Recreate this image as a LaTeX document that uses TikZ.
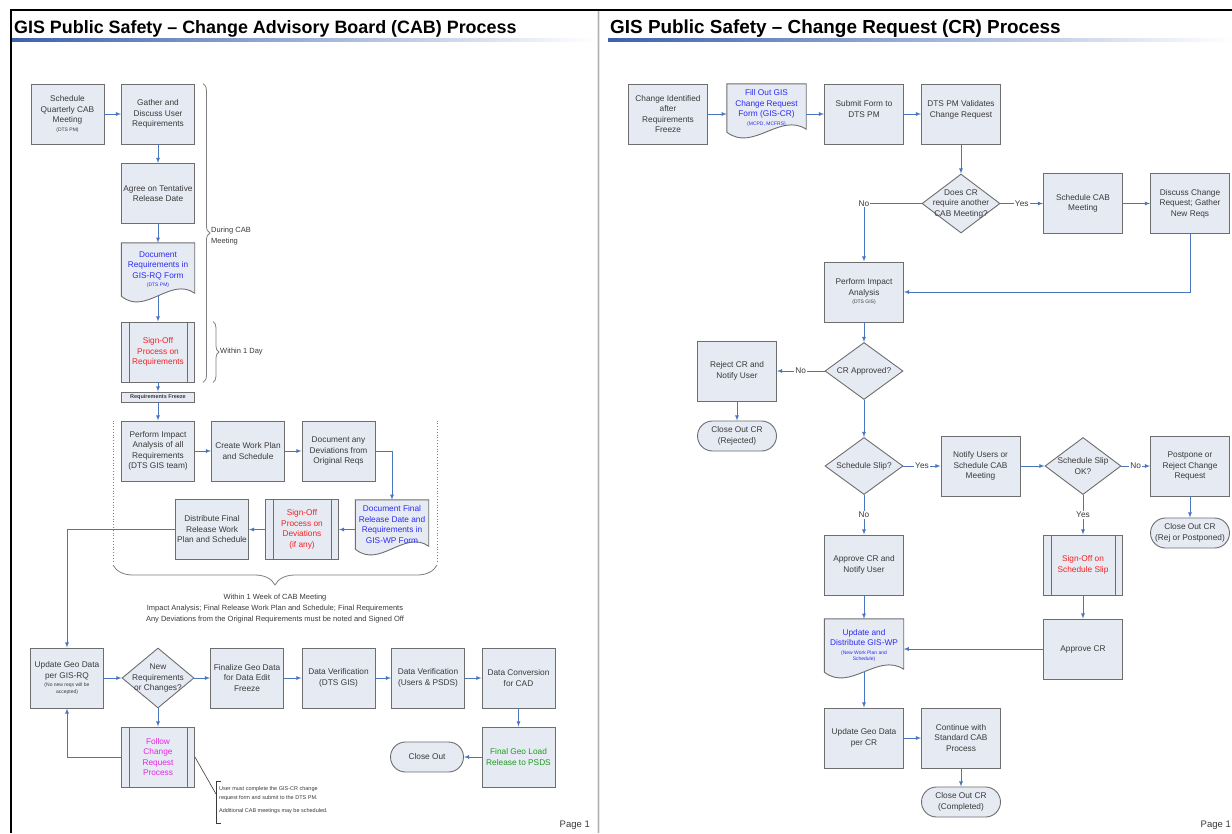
\documentclass[tikz,border=0pt]{standalone}
\usepackage{fontspec}
\setmainfont{Liberation Sans}
\usepackage{tikz}
\usetikzlibrary{arrows,shapes,shapes.geometric,calc,decorations.pathreplacing,backgrounds}
\usepackage{xcolor}
\definecolor{boxfill}{HTML}{E6EAF3}
\definecolor{boxline}{HTML}{6E6E6E}
\definecolor{flowblue}{HTML}{4A76C0}
\definecolor{docblue}{HTML}{2B2BF2}
\definecolor{signred}{HTML}{F22222}
\definecolor{crmagenta}{HTML}{E526E5}
\definecolor{loadgreen}{HTML}{1E9B1E}
\definecolor{ulblue}{HTML}{3C62AC}
\definecolor{notegray}{HTML}{7F7F7F}
\definecolor{txtgray}{HTML}{3A3A3A}
\newcommand{\smalltxt}[1]{{\fontsize{5}{6}\selectfont #1}}
\tikzset{
flownode/.style = {align=center, inner sep=0pt, text=txtgray, font=\fontsize{8.3}{10.5}\selectfont},
procbox/.style = {flownode, rectangle, draw=boxline, fill=boxfill, line width=0.9pt, minimum width=73pt, minimum height=60pt},% process step
subproc/.style = {procbox},% predefined process, side bars drawn later
docbox/.style = {flownode, rectangle, minimum width=73pt, minimum height=50pt},% document, wavy outline drawn later
termbox/.style = {procbox, rounded corners=15pt, minimum height=30pt},% start / end
decision/.style = {diamond, draw=boxline, fill=boxfill, line width=0.9pt, inner sep=0pt, minimum width=76pt, minimum height=58pt, label={[flownode]center:#1}},% yes / no test
flowarrow/.style = {->, >=latex, draw=flowblue, line width=0.8pt},
yesno/.style = {flownode, fill=white, inner sep=1pt},
notetext/.style = {align=left, inner sep=0pt, text=txtgray, font=\fontsize{7.5}{11}\selectfont},
bracebar/.style = {draw=notegray, line width=0.8pt, decorate, decoration={brace, amplitude=#1}},
dotline/.style = {draw=notegray, dotted, line width=0.8pt}
}

\begin{document}
\begin{tikzpicture}[x=1pt, y=-1pt]
\useasboundingbox (0,0) rectangle (1232,833);
\begin{scope}[on background layer]
\fill[white] (0,0) rectangle (1232,833);
\end{scope}

% frame and page split
\fill[gray!20] (597,11) rectangle (600,833);
\draw[gray!60, line width=0.8pt] (598,11) -- (598,833);
\draw[black, line width=2pt] (11,833) -- (11,10) -- (1232,10);

% titles
\node[anchor=base west, inner sep=0pt, font=\fontsize{17.9}{20}\selectfont\bfseries] (title1) at (14,33) {GIS Public Safety – Change Advisory Board (CAB) Process};
\node[anchor=base west, inner sep=0pt, font=\fontsize{18.9}{20}\selectfont\bfseries] (title2) at (610,33) {GIS Public Safety – Change Request (CR) Process};
\shade[left color=ulblue, middle color=ulblue!85, right color=white] (12,38) rectangle (596,41.5);
\shade[left color=ulblue, middle color=ulblue!85, right color=white] (608,38) rectangle (1232,41.5);

% ---- CAB process
\node[procbox] (sched) at (67.5,114) {Schedule\\Quarterly CAB\\Meeting\\[-2pt]\smalltxt{(DTS PM)}};
\node[procbox] (gather) at (158,114) {Gather and\\Discuss User\\Requirements};
\node[procbox] (agree) at (158,193.5) {Agree on Tentative\\Release Date};
\node[docbox, text=docblue, minimum height=53pt] (docrq) at (158,269.5) {Document\\Requirements in\\GIS-RQ Form\\[-2pt]\smalltxt{(DTS PM)}};
\node[subproc, text=signred] (signreq) at (158,352) {Sign-Off\\Process on\\Requirements};
\node[procbox, minimum height=10pt, font=\fontsize{5.5}{6}\selectfont\bfseries] (freeze) at (158,397) {Requirements Freeze};
\node[procbox] (impact) at (158,451) {Perform Impact\\Analysis of all\\Requirements\\(DTS GIS team)};
\node[procbox] (workplan) at (248,451) {Create Work Plan\\and Schedule};
\node[procbox] (deviate) at (338.5,451) {Document any\\Deviations from\\Original Reqs};
\node[docbox, text=docblue, minimum height=49pt] (docwp) at (392,524.5) {Document Final\\Release Date and\\Requirements in\\GIS-WP Form};
\node[subproc, text=signred] (signdev) at (302,529.5) {Sign-Off\\Process on\\Deviations\\(if any)};
\node[procbox] (distrib) at (212,529.5) {Distribute Final\\Release Work\\Plan and Schedule};

\node[procbox] (updrq) at (67,678) {Update Geo Data\\per GIS-RQ\\[-2pt]\smalltxt{(No new reqs will be}\\[-4pt]\smalltxt{accepted)}};
\node[decision={New\\Requirements\\or Changes?}, minimum width=72pt, minimum height=60pt] (newreq) at (158,678) {};
\node[procbox] (finalize) at (247,678) {Finalize Geo Data\\for Data Edit\\Freeze};
\node[procbox] (verdts) at (338.5,678) {Data Verification\\(DTS GIS)};
\node[procbox] (verusr) at (428,678) {Data Verification\\(Users \& PSDS)};
\node[procbox] (convert) at (518.5,678) {Data Conversion\\for CAD};
\node[procbox, text=loadgreen] (geoload) at (518.5,757) {Final Geo Load\\Release to PSDS};
\node[termbox] (closeout) at (427,757) {Close Out};
\node[subproc, text=crmagenta] (followcr) at (158,757) {Follow\\Change\\Request\\Process};

\draw[flowarrow] (sched) -- (gather);
\draw[flowarrow] (gather) -- (agree);
\draw[flowarrow] (agree) -- (docrq);
\draw[flowarrow] (docrq) -- (signreq);
\draw[flowarrow] (signreq) -- (freeze);
\draw[flowarrow] (freeze) -- (impact);
\draw[flowarrow] (impact) -- (workplan);
\draw[flowarrow] (workplan) -- (deviate);
\draw[flowarrow] (deviate.east) -| (docwp.north);
\draw[flowarrow] (docwp.west |- signdev.east) -- (signdev.east);
\draw[flowarrow] (signdev) -- (distrib);
\draw[flowarrow] (distrib.west) -| (updrq.north);
\draw[flowarrow] (updrq) -- (newreq);
\draw[flowarrow] (newreq) -- (finalize);
\draw[flowarrow] (finalize) -- (verdts);
\draw[flowarrow] (verdts) -- (verusr);
\draw[flowarrow] (verusr) -- (convert);
\draw[flowarrow] (convert) -- (geoload);
\draw[flowarrow] (geoload) -- (closeout);
\draw[flowarrow] (newreq) -- (followcr);
\draw[flowarrow] (followcr.west) -| (updrq.south);

% time spans
\draw[bracebar=7pt] ([xshift=8pt]gather.north east) -- ([xshift=8pt]signreq.south east);
\draw[bracebar=6pt] ([xshift=18pt]signreq.north east) -- ([xshift=18pt]signreq.south east);
\node[notetext, anchor=west] (during) at (211,236) {During CAB\\Meeting};
\node[notetext, anchor=west] (oneday) at (220,352) {Within 1 Day};
\coordinate (weekL) at (113,563);
\coordinate (weekR) at (437,563);
\draw[dotline] (weekL |- impact.north) -- (weekL);
\draw[dotline] (weekR |- impact.north) -- (weekR);
\draw[bracebar=20pt] ([yshift=-2pt]weekR) -- ([yshift=-2pt]weekL);
\node[notetext, align=center] (weeknote) at (275,609) {Within 1 Week of CAB Meeting\\Impact Analysis; Final Release Work Plan and Schedule; Final Requirements\\Any Deviations from the Original Requirements must be noted and Signed Off};

% callout
\coordinate (notetop) at (216,781);
\coordinate (notebot) at (216,823);
\coordinate (notehook) at (216,794);
\draw[txtgray, line width=0.6pt] (followcr.east) -- (notehook);
\draw[txtgray, line width=0.6pt] ([xshift=5pt]notetop) -- (notetop) -- (notebot) -- ([xshift=5pt]notebot);
\node[notetext, anchor=north west, font=\fontsize{5.5}{9}\selectfont] (note) at (219,786) {User must complete the GIS-CR change\\request form and submit to the DTS PM.\\[4pt]Additional CAB meetings may be scheduled.};

% ---- CR process
\begin{scope}[procbox/.append style={minimum width=79pt}, docbox/.append style={minimum width=79pt}]
\node[procbox] (chgid) at (668,114) {Change Identified\\after\\Requirements\\Freeze};
\node[docbox, text=docblue, minimum height=48pt] (fillcr) at (766.5,108) {Fill Out GIS\\Change Request\\Form (GIS-CR)\\[-2pt]\smalltxt{(MCPD, MCFRS)}};
\node[procbox] (submit) at (864,114) {Submit Form to\\DTS PM\\~};
\node[procbox] (validate) at (961,114) {DTS PM Validates\\Change Request\\~};
\node[decision={Does CR\\require another\\CAB Meeting?}, minimum width=78pt, minimum height=59pt] (needcab) at (961,203.5) {};
\node[procbox] (schedcab) at (1083,203.5) {Schedule CAB\\Meeting};
\node[procbox] (discuss) at (1190,203.5) {Discuss Change\\Request; Gather\\New Reqs};
\node[procbox] (impact2) at (864,292) {Perform Impact\\Analysis\\[-2pt]\smalltxt{(DTS GIS)}};
\node[decision={CR Approved?}, minimum width=78pt, minimum height=57pt] (approved) at (864,371) {};
\node[procbox] (reject) at (737,371) {Reject CR and\\Notify User};
\node[termbox] (closerej) at (737,436) {Close Out CR\\(Rejected)};
\node[decision={Schedule Slip?}, minimum width=78pt, minimum height=57pt] (slip) at (864,466) {};
\node[procbox] (notify) at (980.5,466) {Notify Users or\\Schedule CAB\\Meeting};
\node[decision={Schedule Slip\\OK?}, minimum width=76pt, minimum height=57pt] (slipok) at (1083,466) {};
\node[procbox] (postpone) at (1190,466) {Postpone or\\Reject Change\\Request};
\node[termbox] (closepp) at (1190,533) {Close Out CR\\(Rej or Postponed)};
\node[subproc, text=signred] (signslip) at (1083,565) {Sign-Off on\\Schedule Slip};
\node[procbox] (approve) at (1083,649) {Approve CR};
\node[procbox] (apprnote) at (864,565) {Approve CR and\\Notify User};
\node[docbox, text=docblue, minimum height=53pt] (updwp) at (864,645.5) {Update and\\Distribute GIS-WP\\[-2pt]\smalltxt{(New Work Plan and}\\[-4pt]\smalltxt{Schedule)}};
\node[procbox] (updcr) at (864,738) {Update Geo Data\\per CR};
\node[procbox] (contcab) at (961,738) {Continue with\\Standard CAB\\Process};
\node[termbox] (closecomp) at (961,802) {Close Out CR\\(Completed)};
\end{scope}

\draw[flowarrow] (chgid.east) -- (chgid.east -| fillcr.west);
\draw[flowarrow] (submit.west -| fillcr.east) -- (submit.west);
\draw[flowarrow] (submit) -- (validate);
\draw[flowarrow] (validate) -- (needcab);
\draw[flowarrow] (needcab) -- node[yesno]{Yes} (schedcab);
\draw[flowarrow] (schedcab) -- (discuss);
\draw[flowarrow] (discuss.south) |- (impact2.east);
\draw[flowarrow] (needcab.west) -| node[yesno, pos=0.5]{No} (impact2.north);
\draw[flowarrow] (impact2) -- (approved);
\draw[flowarrow] (approved) -- node[yesno]{No} (reject);
\draw[flowarrow] (reject) -- (closerej);
\draw[flowarrow] (approved) -- (slip);
\draw[flowarrow] (slip) -- node[yesno]{Yes} (notify);
\draw[flowarrow] (notify) -- (slipok);
\draw[flowarrow] (slipok) -- node[yesno]{No} (postpone);
\draw[flowarrow] (postpone) -- (closepp);
\draw[flowarrow] (slipok) -- node[yesno]{Yes} (signslip);
\draw[flowarrow] (slip) -- node[yesno]{No} (apprnote);
\draw[flowarrow] (signslip) -- (approve);
\draw[flowarrow] (approve.west) -- (approve.west -| updwp.east);
\draw[flowarrow] (apprnote) -- (updwp);
\draw[flowarrow] (updwp) -- (updcr);
\draw[flowarrow] (updcr) -- (contcab);
\draw[flowarrow] (contcab) -- (closecomp);

% side bars and document outlines
\foreach \n in {signreq,signdev,followcr,signslip}
  \draw[boxline, line width=0.9pt] ([xshift=8pt]\n.north west) -- ([xshift=8pt]\n.south west)
    ([xshift=-8pt]\n.north east) -- ([xshift=-8pt]\n.south east);
\begin{scope}[on background layer]
\foreach \n in {docrq,docwp,fillcr,updwp}
  \filldraw[draw=boxline, fill=boxfill, line width=0.9pt] (\n.north west) -- (\n.north east) -- ([yshift=3pt]\n.south east)
    .. controls ($(\n.south west)!0.67!(\n.south east)+(0,-20)$) and ($(\n.south west)!0.33!(\n.south east)+(0,20)$) .. (\n.south west) -- cycle;
\end{scope}

\node[anchor=base east, inner sep=0pt, text=txtgray, font=\fontsize{9.5}{10}\selectfont] (page1) at (590,827) {Page 1};
\node[anchor=base east, inner sep=0pt, text=txtgray, font=\fontsize{9.5}{10}\selectfont] (page2) at (1231,827) {Page 1};
\end{tikzpicture}
\end{document}
